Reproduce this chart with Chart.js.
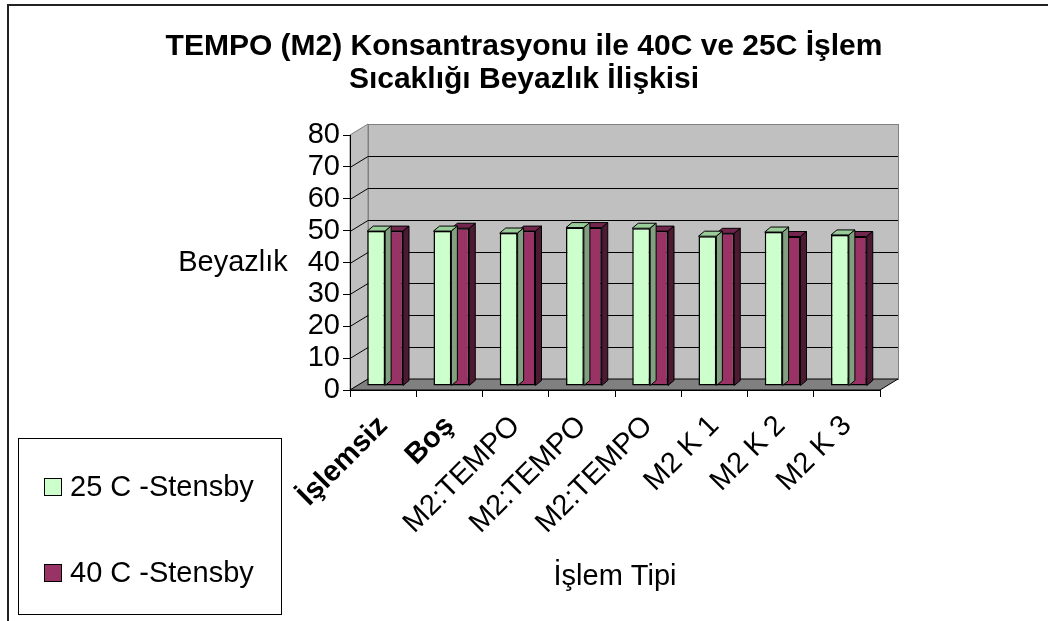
<!DOCTYPE html>
<html>
<head>
<meta charset="utf-8">
<script src="https://cdn.jsdelivr.net/npm/chart.js@4.4.1/dist/chart.umd.min.js"></script>
<style>
  html, body { margin: 0; background: #fff; }
  #wrap { width: 1048px; height: 621px; }
</style>
</head>
<body>
<div id="wrap"><canvas id="chart"></canvas></div>
<script>
const kategoriler = ["İşlemsiz", "Boş", "M2:TEMPO", "M2:TEMPO", "M2:TEMPO", "M2 K 1", "M2 K 2", "M2 K 3"];
const seri25 = [48.6, 48.6, 48.0, 49.7, 49.5, 47.0, 48.3, 47.4];
const seri40 = [48.6, 49.5, 48.6, 49.7, 48.6, 47.9, 46.9, 46.9];
const seriAdlari = ["25 C -Stensby", "40 C -Stensby"];
const baslik = ["TEMPO (M2) Konsantrasyonu ile 40C ve 25C İşlem", "Sıcaklığı Beyazlık İlişkisi"];
const yBaslik = "Beyazlık";
const xBaslik = "İşlem Tipi";

const FONT = "Arial, 'Liberation Sans', sans-serif";
const DX = 18, DY = 11; // duvar derinliği
const BX = 6, BY = 5;   // çubuk derinliği

// excel tarzı 3B duvarlar, çubuk yüzleri, lejant
const ucBoyut = {
  id: "ucBoyut",
  beforeDraw(chart) {
    const { ctx, chartArea: a } = chart;
    const y = chart.scales.y;
    ctx.save();
    ctx.fillStyle = "#fff";
    ctx.fillRect(0, 0, chart.width, chart.height);

    // dış çerçeve
    ctx.strokeStyle = "#222";
    ctx.lineWidth = 2;
    ctx.beginPath();
    ctx.moveTo(8, chart.height);
    ctx.lineTo(8, 5);
    ctx.lineTo(chart.width, 5);
    ctx.stroke();

    // arka ve sol duvar
    ctx.lineWidth = 1;
    ctx.fillStyle = "#c0c0c0";
    ctx.strokeStyle = "#808080";
    ctx.fillRect(a.left + DX, a.top - DY, a.width, a.height);
    ctx.strokeRect(a.left + DX + 0.5, a.top - DY + 0.5, a.width, a.height);
    ctx.beginPath();
    ctx.moveTo(a.left, a.bottom);
    ctx.lineTo(a.left, a.top);
    ctx.lineTo(a.left + DX, a.top - DY);
    ctx.lineTo(a.left + DX, a.bottom - DY);
    ctx.closePath();
    ctx.fill();
    ctx.stroke();

    // ızgara
    ctx.strokeStyle = "#000";
    y.ticks.forEach((t) => {
      if (t.value <= 0 || t.value >= 80) return;
      const py = Math.round(y.getPixelForValue(t.value)) + 0.5;
      ctx.beginPath();
      ctx.moveTo(a.left, py);
      ctx.lineTo(a.left + DX, py - DY);
      ctx.lineTo(a.right + DX, py - DY);
      ctx.stroke();
    });

    // taban
    ctx.fillStyle = "#808080";
    ctx.beginPath();
    ctx.moveTo(a.left, a.bottom);
    ctx.lineTo(a.right, a.bottom);
    ctx.lineTo(a.right + DX, a.bottom - DY);
    ctx.lineTo(a.left + DX, a.bottom - DY);
    ctx.closePath();
    ctx.fill();
    ctx.strokeStyle = "#000";
    ctx.stroke();
    ctx.restore();
  },
  beforeDatasetsDraw(chart) {
    chart.ctx.save();
    chart.ctx.translate(2, -4);
  },
  afterDatasetDraw(chart, args) {
    const ctx = chart.ctx;
    const ds = chart.data.datasets[args.index];
    ctx.save();
    ctx.strokeStyle = "#000";
    ctx.lineWidth = 1;
    args.meta.data.forEach((bar) => {
      const { x, y, base, width } = bar.getProps(["x", "y", "base", "width"], true);
      const l = x - width / 2, r = x + width / 2;
      ctx.beginPath();
      ctx.moveTo(l, y);
      ctx.lineTo(l + BX, y - BY);
      ctx.lineTo(r + BX, y - BY);
      ctx.lineTo(r, y);
      ctx.closePath();
      ctx.fillStyle = ds.topColor;
      ctx.fill();
      ctx.stroke();
      ctx.beginPath();
      ctx.moveTo(r, y);
      ctx.lineTo(r + BX, y - BY);
      ctx.lineTo(r + BX, base - BY);
      ctx.lineTo(r, base);
      ctx.closePath();
      ctx.fillStyle = ds.sideColor;
      ctx.fill();
      ctx.stroke();
    });
    ctx.restore();
  },
  afterDatasetsDraw(chart) {
    chart.ctx.restore();
  },
  afterDraw(chart) {
    const { ctx, chartArea: a } = chart;
    ctx.save();
    ctx.fillStyle = "#000";
    ctx.font = "29px " + FONT;
    ctx.textAlign = "center";
    ctx.textBaseline = "middle";
    ctx.fillText(yBaslik, 233, (a.top + a.bottom) / 2);

    // lejant
    ctx.strokeStyle = "#000";
    ctx.lineWidth = 1;
    ctx.strokeRect(18.5, 438.5, 263, 176);
    ctx.textAlign = "left";
    const satirY = [487, 573];
    chart.data.datasets.forEach((ds, i) => {
      ctx.fillStyle = ds.backgroundColor;
      ctx.fillRect(44, satirY[i] - 9, 18, 18);
      ctx.strokeRect(44.5, satirY[i] - 8.5, 17, 17);
      ctx.fillStyle = "#000";
      ctx.fillText(ds.label, 70, satirY[i] + 1);
    });
    ctx.restore();
  },
};

new Chart(document.getElementById("chart"), {
  type: "bar",
  data: {
    labels: kategoriler,
    datasets: [
      {
        label: seriAdlari[0],
        data: seri25,
        backgroundColor: "#ccffcc",
        topColor: "#99cc99",
        sideColor: "#80a080",
        borderColor: "#000",
        borderWidth: 1.5,
        borderSkipped: false,
      },
      {
        label: seriAdlari[1],
        data: seri40,
        backgroundColor: "#993366",
        topColor: "#73264d",
        sideColor: "#4d1a33",
        borderColor: "#000",
        borderWidth: 1.5,
        borderSkipped: false,
      },
    ],
  },
  options: {
    responsive: true,
    maintainAspectRatio: false,
    animation: false,
    layout: { padding: 0 },
    datasets: {
      bar: { categoryPercentage: 0.54, barPercentage: 1.0 },
    },
    plugins: {
      legend: { display: false },
      tooltip: { enabled: false },
      title: {
        display: true,
        text: baslik,
        color: "#000",
        font: { family: FONT, size: 30, weight: "bold", lineHeight: 1.1 },
        padding: { top: 30, bottom: 39 },
      },
    },
    scales: {
      x: {
        grid: { display: true, drawOnChartArea: false, color: "#000", tickLength: 7, offset: true },
        border: { display: true, color: "#000" },
        ticks: {
          color: "#000",
          autoSkip: false,
          maxRotation: 45,
          minRotation: 45,
          padding: 12,
          font: (c) => ({ family: FONT, size: 29, weight: c.index < 2 ? "bold" : "normal" }),
        },
        title: {
          display: true,
          text: xBaslik,
          color: "#000",
          font: { family: FONT, size: 29 },
          padding: { top: 0, bottom: 27 },
        },
        afterFit: (s) => { s.height = 231; },
      },
      y: {
        min: 0,
        max: 80,
        ticks: { stepSize: 10, autoSkip: false, color: "#000", padding: 3, font: { family: FONT, size: 29 } },
        grid: { drawOnChartArea: false, color: "#000", tickLength: 7 },
        border: { display: true, color: "#000" },
        afterFit: (s) => { s.width = 350; },
      },
      sag: {
        type: "linear",
        position: "right",
        display: true,
        grid: { display: false },
        border: { display: false },
        ticks: { display: false },
        afterFit: (s) => { s.width = 168; },
      },
    },
  },
  plugins: [ucBoyut],
});
</script>
</body>
</html>
